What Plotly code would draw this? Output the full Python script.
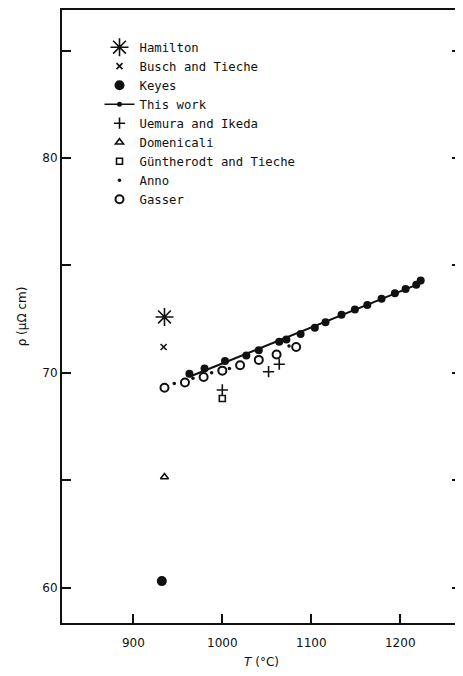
import numpy as np
import plotly.graph_objects as go

# ---- data (T in °C, rho in µΩ cm) ----
hamilton_T = [935]
hamilton_rho = [72.6]

busch_T = [934]
busch_rho = [71.2]

keyes_T = [932]
keyes_rho = [60.3]

thiswork_T = [963, 980, 1003, 1027, 1041, 1064, 1072, 1088, 1104, 1116,
              1134, 1149, 1163, 1179, 1194, 1206, 1218, 1223]
thiswork_rho = [69.95, 70.2, 70.55, 70.8, 71.05, 71.45, 71.55, 71.8, 72.1, 72.35,
                72.7, 72.95, 73.15, 73.45, 73.7, 73.9, 74.1, 74.3]

uemura_T = [1000, 1052, 1064]
uemura_rho = [69.2, 70.05, 70.4]

domenicali_T = [935]
domenicali_rho = [65.15]

guntherodt_T = [1000]
guntherodt_rho = [68.8]

anno_T = [946, 967, 988, 1008, 1075]
anno_rho = [69.5, 69.75, 70.0, 70.2, 71.25]

gasser_T = [935, 958, 979, 1000, 1020, 1041, 1061, 1083]
gasser_rho = [69.3, 69.55, 69.8, 70.1, 70.35, 70.6, 70.85, 71.2]

x_ticks = [900, 1000, 1100, 1200]
y_ticks = [60, 65, 70, 75, 80, 85]
y_ticktext = ["60", "", "70", "", "80", ""]

# fit line for "This work"
coef = np.polyfit(thiswork_T, thiswork_rho, 1)
fit_T = np.array([min(thiswork_T), max(thiswork_T)])
fit_rho = np.polyval(coef, fit_T)

BLACK = "#111111"
fig = go.Figure()

def add(name, xs, ys, symbol, size, lw=1.5):
    fig.add_trace(go.Scatter(
        x=xs, y=ys, mode="markers", name=name,
        marker=dict(symbol=symbol, size=size, color=BLACK,
                    line=dict(color=BLACK, width=lw)),
    ))

add("Hamilton", hamilton_T, hamilton_rho, "asterisk-open", 15, 1.6)
add("Busch and Tieche", busch_T, busch_rho, "x-thin-open", 6, 1.6)
add("Keyes", keyes_T, keyes_rho, "circle", 10, 0)
fig.add_trace(go.Scatter(x=[None], y=[None], mode="lines+markers", name="This work",
                         line=dict(color=BLACK, width=1.5),
                         marker=dict(symbol="circle", size=5, color=BLACK)))
add("Uemura and Ikeda", uemura_T, uemura_rho, "cross-thin-open", 8, 1.6)
add("Domenicali", domenicali_T, domenicali_rho, "triangle-up-open", 7, 1.6)
add("Güntherodt and Tieche", guntherodt_T, guntherodt_rho, "square-open", 6, 1.6)
add("Anno", anno_T, anno_rho, "circle", 3.5, 0)
add("Gasser", gasser_T, gasser_rho, "circle-open", 8, 2)

fig.add_trace(go.Scatter(x=fit_T, y=fit_rho, mode="lines", showlegend=False,
                         line=dict(color=BLACK, width=2)))
fig.add_trace(go.Scatter(x=thiswork_T, y=thiswork_rho, mode="markers", showlegend=False,
                         marker=dict(symbol="circle", size=8, color=BLACK)))

fig.update_layout(
    width=455, height=668,
    margin=dict(l=54, r=1, t=0, b=53),
    paper_bgcolor="white", plot_bgcolor="white",
    font=dict(family="DejaVu Sans", size=12, color=BLACK),
    showlegend=True,
    legend=dict(x=0.094, y=0.963, xanchor="left", yanchor="top",
                bgcolor="rgba(0,0,0,0)", borderwidth=0,
                font=dict(family="DejaVu Sans Mono", size=12.3),
                tracegroupgap=0, itemwidth=30),
)
fig.update_xaxes(range=[819.8, 1268.3], tickvals=x_ticks, ticks="inside", ticklen=9,
                 tickwidth=1.5, tickcolor=BLACK, showline=True, linecolor=BLACK,
                 linewidth=2, mirror=True, showgrid=False, zeroline=False,
                 ticklabelstandoff=8,
                 title=dict(text="<i>T</i> (°C)", font=dict(size=12), standoff=8),
                 tickfont=dict(size=12))
fig.update_yaxes(range=[58.35, 86.89], tickvals=y_ticks, ticktext=y_ticktext,
                 ticks="inside", ticklen=9, tickwidth=1.5, tickcolor=BLACK,
                 showline=True, linecolor=BLACK, linewidth=2, mirror="ticks",
                 showgrid=False, zeroline=False,
                 title=dict(text="ρ (μΩ cm)", font=dict(size=12), standoff=13),
                 tickfont=dict(size=12))

fig.write_html("out.html")
